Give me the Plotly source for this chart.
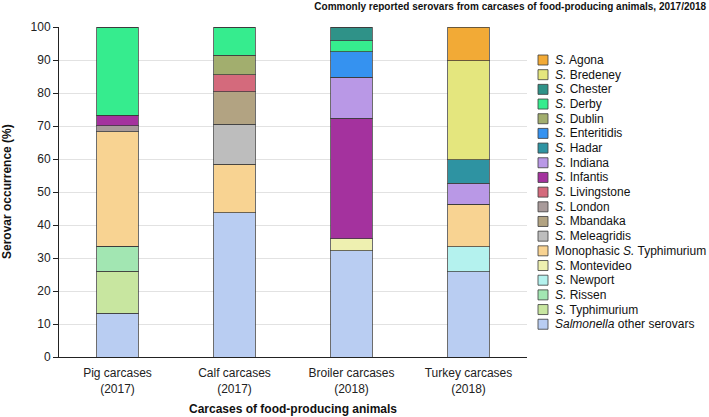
import plotly.graph_objects as go

categories = ["Pig carcases<br>(2017)", "Calf carcases<br>(2017)",
              "Broiler carcases<br>(2018)", "Turkey carcases<br>(2018)"]

# stacking order: bottom to top
serovars = [
    "<i>Salmonella</i> other serovars",
    "<i>S.</i> Typhimurium",
    "<i>S.</i> Rissen",
    "<i>S.</i> Newport",
    "<i>S.</i> Montevideo",
    "Monophasic <i>S.</i> Typhimurium",
    "<i>S.</i> Meleagridis",
    "<i>S.</i> Mbandaka",
    "<i>S.</i> London",
    "<i>S.</i> Livingstone",
    "<i>S.</i> Infantis",
    "<i>S.</i> Indiana",
    "<i>S.</i> Hadar",
    "<i>S.</i> Enteritidis",
    "<i>S.</i> Dublin",
    "<i>S.</i> Derby",
    "<i>S.</i> Chester",
    "<i>S.</i> Bredeney",
    "<i>S.</i> Agona",
]

colors = [
    "#b9cdf2", "#c8e6a0", "#a2e6b2", "#b4f2ee", "#eef0b0", "#f8d392",
    "#bdbdbd", "#b2a382", "#a89a9a", "#d46a7c", "#a4329e", "#b998e6",
    "#2e93a2", "#3592f0", "#a2ae6e", "#36ec8e", "#2f9288", "#e4e67e", "#f2aa36",
]

other_serovars = [13.3, 43.7, 32.2, 25.9]
typhimurium = [12.7, 0, 0, 0]
rissen = [7.5, 0, 0, 0]
newport = [0, 0, 0, 7.5]
montevideo = [0, 0, 3.6, 0]
monophasic = [34.8, 14.7, 0, 12.9]
meleagridis = [0, 12.2, 0, 0]
mbandaka = [0, 9.8, 0, 0]
london = [1.8, 0, 0, 0]
livingstone = [0, 5.1, 0, 0]
infantis = [3.2, 0, 36.5, 0]
indiana = [0, 0, 12.4, 6.3]
hadar = [0, 0, 0, 7.1]
enteritidis = [0, 0, 7.8, 0]
dublin = [0, 6.0, 0, 0]
derby = [26.7, 8.5, 3.3, 0]
chester = [0, 0, 4.2, 0]
bredeney = [0, 0, 0, 30.1]
agona = [0, 0, 0, 10.2]

values = [other_serovars, typhimurium, rissen, newport, montevideo, monophasic,
          meleagridis, mbandaka, london, livingstone, infantis, indiana, hadar,
          enteritidis, dublin, derby, chester, bredeney, agona]

FONT = "Liberation Sans, Arial, sans-serif"
fig = go.Figure()
for name, col, vals in zip(serovars, colors, values):
    fig.add_trace(go.Bar(
        x=categories, y=vals, name=name, showlegend=False,
        marker=dict(color=col, line=dict(color="rgba(60,60,60,0.75)", width=1)),
    ))

# Compact legend drawn in paper coordinates (top entry = last stacked series)
W, H = 709, 417
L, R, T, B = 59, 182, 27, 60
pw, ph = W - L - R, H - T - B
def px2x(x):
    return (x - L) / pw
def px2y(y):
    return (H - B - y) / ph

legend_items = list(zip(serovars, colors))[::-1]
for i, (name, col) in enumerate(legend_items):
    yc = 60 + 14.68 * i
    fig.add_shape(type="rect", xref="paper", yref="paper",
                  x0=px2x(538), x1=px2x(548), y0=px2y(yc + 5), y1=px2y(yc - 5),
                  fillcolor=col, line=dict(color="rgba(60,60,60,0.8)", width=1))
    fig.add_annotation(xref="paper", yref="paper", x=px2x(553), y=px2y(yc),
                       text=name, showarrow=False, xanchor="left", yanchor="middle",
                       font=dict(family=FONT, size=12, color="#111"))

# axis titles
fig.add_annotation(xref="paper", yref="paper", x=px2x(7), y=0.5,
                   text="<b>Serovar occurrence (%)</b>", textangle=-90,
                   showarrow=False, xanchor="center", yanchor="middle",
                   font=dict(family=FONT, size=12, color="#111"))
fig.add_annotation(xref="paper", yref="paper", x=0.5, y=px2y(409),
                   text="<b>Carcases of food-producing animals</b>",
                   showarrow=False, xanchor="center", yanchor="middle",
                   font=dict(family=FONT, size=12, color="#111"))

fig.update_layout(
    barmode="stack",
    bargap=0.645,
    width=W, height=H,
    margin=dict(l=L, r=R, t=T, b=B, autoexpand=False),
    plot_bgcolor="white", paper_bgcolor="white",
    font=dict(family=FONT, size=12, color="#222"),
    title=dict(text="<b>Commonly reported serovars from carcases of food-producing animals, 2017/2018</b>",
               x=0.996, xanchor="right", y=0.992, yanchor="top",
               font=dict(family=FONT, size=10, color="#111")),
    xaxis=dict(
        automargin=False,
        showline=True, linecolor="#222", linewidth=1,
        ticks="", ticklabelstandoff=5,
        tickfont=dict(size=12, color="#222"),
    ),
    yaxis=dict(
        automargin=False,
        range=[0, 100], dtick=10, showline=True, linecolor="#222", linewidth=1,
        ticks="outside", ticklen=5, tickcolor="#222",
        gridcolor="#e2e2e2", zeroline=False,
        tickfont=dict(size=12, color="#222"),
    ),
)

fig.write_html("out.html", config={"displayModeBar": False},
               post_script="document.body.style.margin='0';document.body.style.overflow='hidden';")
